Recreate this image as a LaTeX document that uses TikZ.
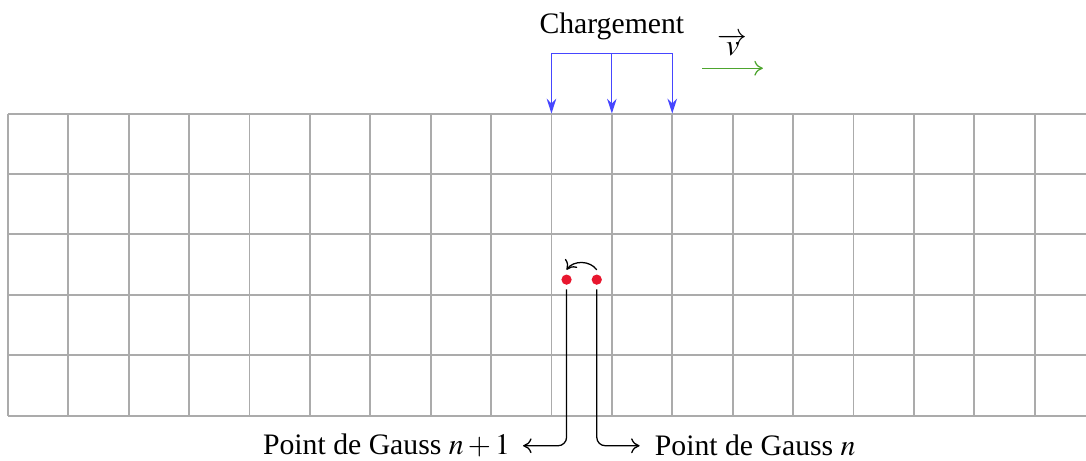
\documentclass[tikz,border=0pt]{standalone}
\usepackage{mathptmx}
\usepackage{fontspec}
\setmainfont{Liberation Serif}
\usetikzlibrary{arrows.meta,positioning,calc}
\definecolor{mesh}{HTML}{ABABAB}
\definecolor{load}{HTML}{4646FF}
\definecolor{speed}{HTML}{4DA52E}
\definecolor{gauss}{HTML}{E8162E}

\begin{document}
\begin{tikzpicture}[x=1cm,y=1cm,font=\fontsize{14}{17}\selectfont]
  \useasboundingbox (-0.13,-0.75) rectangle (17.85,6.88);
  \draw[mesh,line width=0.9pt] (0,0) grid (17.85,5);
  % chargement
  \foreach \x [count=\i] in {9,10,11} {
    \coordinate (l\i) at (\x,6);
    \coordinate (t\i) at (\x,5);
    \draw[load,semithick,-{Stealth[length=7pt,width=4.5pt]}] (l\i) -- (t\i);
  }
  \draw[load,semithick] (l1) -- (l3);
  \node (chg) at (10,6.45) {Chargement};
  % vitesse
  \coordinate (v0) at (11.5,5.75);
  \coordinate (v1) at (12.5,5.75);
  \draw[speed,semithick,-{To[length=4pt,width=7pt]}] (v0) -- (v1);
  \node (vit) at (12,6.14) {$\overrightarrow{v}$};
  % points de Gauss
  \node[circle,fill=gauss,inner sep=0pt,minimum size=0.17cm] (gn1) at (9.25,2.25) {};
  \node[circle,fill=gauss,inner sep=0pt,minimum size=0.17cm] (gn) at (9.75,2.25) {};
  \draw[semithick,-{To[length=4pt,width=7pt]}] ([yshift=2pt]gn.north) to[bend right=55] ([yshift=2pt]gn1.north);
  \node[anchor=east,inner sep=6pt] (lbn1) at (8.53,-0.5) {Point de Gauss $n+1$};
  \node[anchor=west,inner sep=7pt] (lbn) at (10.46,-0.5) {Point de Gauss $n$};
  \draw[semithick,-{To[length=4pt,width=7pt]},rounded corners=4pt] ([yshift=-2pt]gn1.south) |- (lbn1);
  \draw[semithick,-{To[length=4pt,width=7pt]},rounded corners=4pt] ([yshift=-2pt]gn.south) |- (lbn);
\end{tikzpicture}
\end{document}
